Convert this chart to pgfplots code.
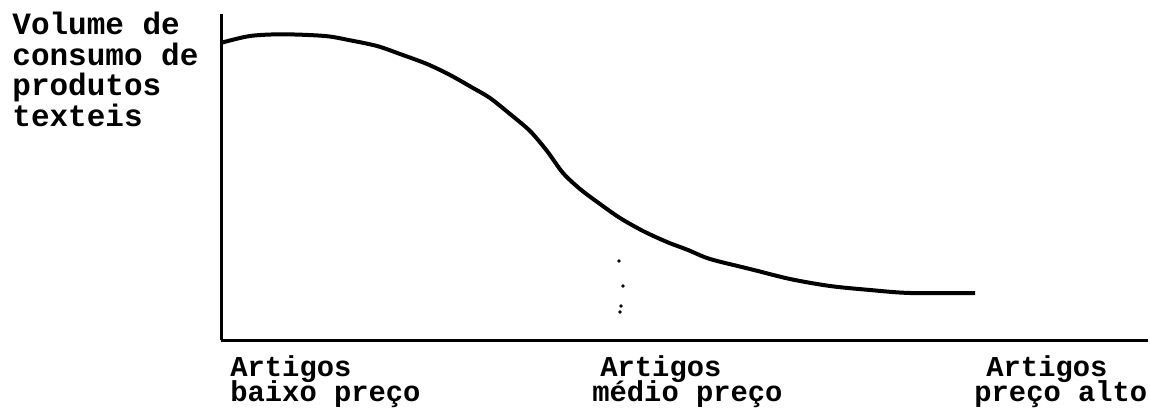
\documentclass[border=0pt]{standalone}
\usepackage{pgfplots}
\pgfplotsset{compat=1.18}
\usepackage{fontspec}
\newfontfamily\mono{Liberation Mono}
\newcommand\tightl{\lineskiplimit=-100pt\relax}
\begin{document}
\begin{tikzpicture}
\useasboundingbox (0,0) rectangle (575pt,206.5pt);
\begin{axis}[
  at={(110.5pt,36.5pt)}, anchor=south west,
  scale only axis, width=463.5pt, height=163pt,
  xmin=221, xmax=1148, ymin=0, ymax=326,
  axis lines=left, axis line style={-, line width=1.5pt},
  xtick=\empty, ytick=\empty, clip=false]
\addplot[smooth, line width=2pt, black] coordinates {
(221.7,297.3) (250,304) (283,305.7) (325,304) (350,299.7) (377,294) (400,286)
(427,276) (450,265) (473,252) (490,242) (510,226) (530,209) (547,189) (563,167)
(580,151) (600,136) (620,122) (643,109) (667,98) (688,90) (710,81) (750,71)
(790,61) (830,54) (870,50) (910,47) (975,47)};
\addplot[only marks, mark=*, mark size=0.6pt, black] coordinates {
(619,79) (623,54) (621,34) (620,28)};
\end{axis}
\node[inner sep=0pt, anchor=base west, align=left,
  font=\mono\bfseries\fontsize{15.5}{15.2}\selectfont\tightl]
  at (6pt,143.4pt) {Volume de\\consumo de\\produtos\\texteis};
\begin{scope}[every node/.style={inner sep=0pt, anchor=base west, align=left,
  font=\mono\bfseries\fontsize{14.4}{12.5}\selectfont\tightl}]
\node at (115pt,6pt) {Artigos\\baixo preço};
\node at (296pt,6pt) {\hspace*{4pt}Artigos\\médio preço};
\node at (487pt,6pt) {\hspace*{6pt}Artigos\\preço alto};
\end{scope}
\end{tikzpicture}
\end{document}
